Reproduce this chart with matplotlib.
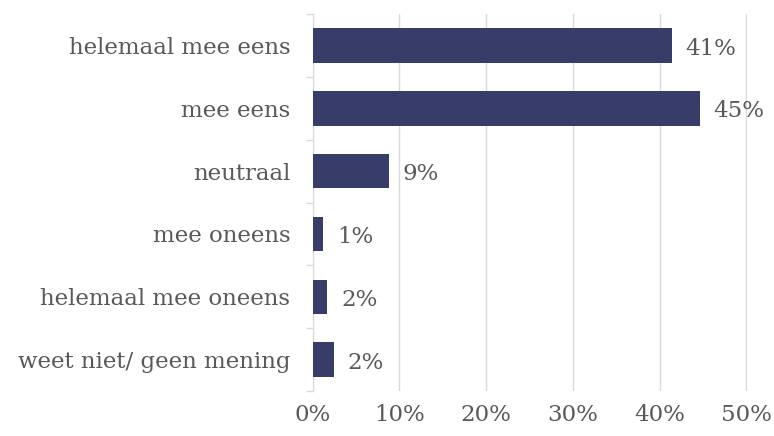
import matplotlib.pyplot as plt
import numpy as np

categories = ["helemaal mee eens", "mee eens", "neutraal", "mee oneens",
              "helemaal mee oneens", "weet niet/ geen mening"]
values = [41.4, 44.6, 8.8, 1.2, 1.7, 2.4]
labels = ["41%", "45%", "9%", "1%", "2%", "2%"]
x_ticks = [0, 10, 20, 30, 40, 50]

text_color = "#595959"
bar_color = "#383c69"
fs = 16.5
plt.rcParams["font.family"] = ["DejaVu Serif"]

fig = plt.figure(figsize=(7.74, 4.36), dpi=100)
ax = fig.add_axes([0.404, 0.103, 0.561, 0.865])

y = np.arange(len(categories))
ax.barh(y, values, height=0.55, color=bar_color, zorder=3)
for yi, v, lab in zip(y, values, labels):
    ax.text(v + 1.6, yi + 0.05, lab, va="center", ha="left",
            fontsize=fs, color=text_color)

ax.set_ylim(len(categories) - 0.5, -0.5)
ax.set_xlim(0, 50.05)
ax.set_yticks(y)
ax.set_yticklabels(categories, fontsize=fs, color=text_color)
ax.set_yticks(np.arange(-0.5, len(categories)), minor=True)
ax.tick_params(axis="y", which="major", length=0, pad=16)
ax.tick_params(axis="y", which="minor", length=5, color="#d9d9d9", width=1)
ax.set_xticks(x_ticks)
ax.set_xticklabels([f"{t}%" for t in x_ticks], fontsize=fs, color=text_color)
ax.tick_params(axis="x", length=0, pad=9)
ax.grid(axis="x", color="#d9d9d9", linewidth=1, zorder=0)
for side in ["top", "right", "bottom"]:
    ax.spines[side].set_visible(False)
ax.spines["left"].set_color("#d9d9d9")

fig.savefig("out.png", dpi=100)
